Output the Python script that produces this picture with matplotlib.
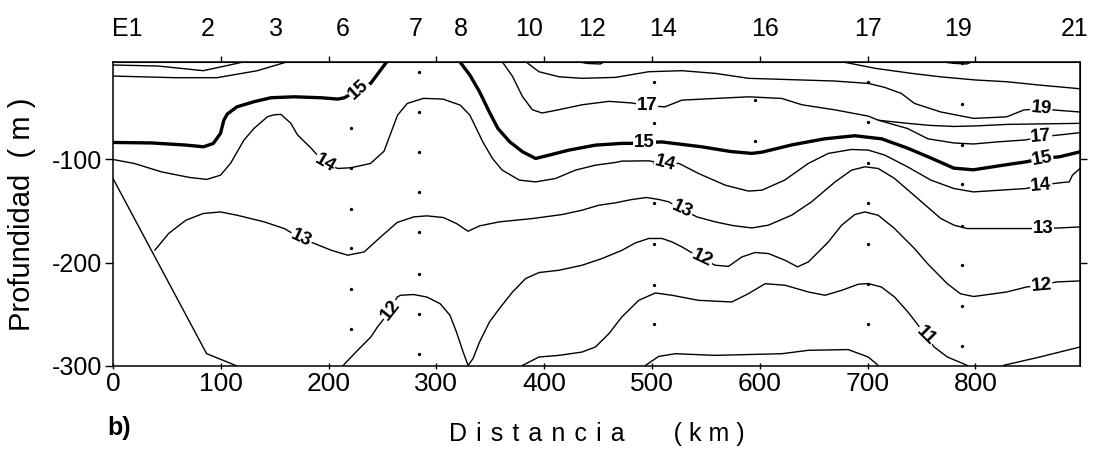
import matplotlib
matplotlib.use("Agg")
import matplotlib.pyplot as plt

plt.rcParams["font.family"] = ["Liberation Sans", "DejaVu Sans"]
plt.rcParams["axes.unicode_minus"] = False

# ---- stations along the section (distance in km) ----
station_names = ["E1", "2", "3", "6", "7", "8", "10", "12", "14", "16", "17", "19", "21"]
station_km = [13.5, 88, 151, 213, 281, 323, 386, 444, 510, 605, 700, 784, 892]

# ---- sampled depths at the casts (m) ----
cast_km = [221, 283.5, 502, 595.5, 700.6, 787.2]
cast_depths = [
    [-69.6, -108, -147.5, -186.2, -225.7, -264.5],
    [-15.1, -53.8, -92.6, -131.4, -170.2, -210.5, -249.3, -288.1],
    [-25, -64.5, -103.2, -142.6, -182, -221.1, -259.6],
    [-42.5, -81.9],
    [-24.7, -63.5, -103.2, -142.6, -181.4, -220.2, -259],
    [-6.9, -46.7, -86, -124.2, -164.3, -202.4, -242.2, -280.6],
]

# ---- sea floor on the shelf ----
shelf_km = [0, 86.8, 115]
shelf_z = [-118.4, -288, -300]

# ---- isotherms (distance km, depth m) ----
iso20_km = [676, 707, 740, 768, 800, 829, 859, 897]
iso20_z = [-5.3, -11.7, -16.5, -20, -23, -24.7, -27.9, -31.5]

iso19_km = [382.8, 395.1, 413.6, 435.2, 466, 497, 527.8, 558.6, 589.5, 620.4, 669, 700.6,
            715.9, 731.2, 743.4, 767.9, 798.4, 829, 845, 861, 878, 897]
iso19_z = [-5.3, -15, -19.9, -21.4, -20.5, -15, -14, -16.6, -21.4, -22.4, -24, -26.3,
           -30.2, -36, -45.7, -54, -60.2, -58.7, -52, -51, -52.5, -54]

iso19w_km = [0, 42, 83.7, 115.2, 121.5]
iso19w_z = [-8.5, -9.5, -14, -6.9, -5.3]

iso17w_km = [0, 58, 96.4, 134, 162]
iso17w_z = [-19.2, -20.8, -20.8, -14, -5.3]

iso17_km = [361, 370.6, 379.8, 389, 398, 413.6, 435.2, 460, 481.5, 495.4, 512, 527.8,
            558.6, 589.8, 620.4, 639, 670, 700.6, 710, 737, 756, 780, 798, 820, 847,
            861, 880, 897]
iso17_z = [-5.3, -19.5, -39, -51.8, -55, -51.8, -47, -43.7, -45.3, -48, -49, -42.5,
           -40.9, -39.3, -40.9, -47, -52, -58, -62, -70, -80, -84, -85, -83, -81,
           -78, -76, -74]

# upper branch of the 17 isotherm east of station 17
iso17b_km = [710, 737, 758, 780, 800, 830, 897]
iso17b_z = [-62, -65, -67, -68, -67.5, -66, -65]

iso15w_km = [0, 36, 67, 84, 93, 99.7, 102.8, 106, 115, 131, 146.5, 168, 193, 208.5,
             214.7, 228, 239, 254]
iso15w_z = [-83.5, -84, -86, -87.7, -84.5, -74.8, -62, -56, -49, -44, -40.2, -39.3,
            -40.2, -41.5, -40.2, -32, -26.3, -5.3]

iso15e_km = [321.7, 331, 340, 349, 357, 368, 380, 392, 404.4, 423, 447.5, 472, 480, 493,
             509, 546, 573, 592.6, 602, 630, 660, 688, 713, 737, 759, 780, 798, 829,
             847, 862, 878, 897]
iso15e_z = [-5.3, -18.2, -34.4, -53.8, -69.9, -82.9, -92.6, -99, -95.8, -90.9, -86.1,
            -84.4, -84.4, -83.6, -83, -87.7, -92.3, -94.1, -92.9, -85.8, -80, -77, -80,
            -89, -98.7, -108.4, -110, -105, -102.3, -99, -97.4, -92.6]

iso14_km = [0, 19.5, 45, 71, 87, 99.7, 109, 121.5, 130.8, 143.3, 149.5, 155.8, 165, 171,
            184, 196.3, 208.5, 220.8, 239, 251.4, 257, 264, 273, 288, 306, 322, 331,
            337, 343, 352, 361, 377, 392, 410.5, 429, 447.5, 466, 472, 497, 512, 525,
            543, 568, 589.5, 602, 623, 645, 663.6, 685, 700.6, 716, 737, 758.7, 780,
            798, 847, 861, 878, 887, 890, 897]
iso14_z = [-100, -103.8, -112, -117.4, -119.3, -115.2, -103.8, -81.2, -69.9, -58.6,
           -56.7, -56.3, -65, -76, -89.3, -103.8, -108.7, -108, -103.8, -92, -76.4, -57,
           -45.7, -40.8, -41.5, -47.3, -57, -69.9, -82.9, -99, -110.3, -120, -121.7,
           -118.4, -110.3, -105.5, -102.9, -101.6, -101.3, -104, -103.8, -113.5, -124.9,
           -130.6, -129.7, -120, -103.8, -94.1, -90.3, -90.9, -95.8, -107.1, -120,
           -128.1, -131.4, -128.1, -124.9, -122.6, -121.7, -115.2, -108.7]

iso13_km = [38.8, 51.6, 67.6, 83.7, 99.7, 115.2, 140.2, 158.9, 174.5, 186.9, 202.5,
            217.7, 233, 248.3, 263.6, 278.9, 291.1, 306.4, 318.6, 329.4, 340, 358.4,
            389, 416.7, 435.2, 450.6, 466, 480, 494.7, 506.2, 515.5, 527.8, 541.7,
            558.6, 575, 592.6, 608, 629.6, 648, 669.8, 685.2, 697.5, 709.8, 725,
            746.5, 767.9, 780.1, 792.4, 847.4, 862.7, 878, 897]
iso13_z = [-187.9, -171.7, -158.8, -152.3, -150.8, -154, -160.4, -166.9, -176.5, -181.4,
           -187.9, -192.7, -189.5, -175, -161, -155.6, -154.6, -156.2, -162, -169.5,
           -164.3, -160.4, -157.2, -153.3, -149.1, -144.3, -142, -139, -136.8, -138.7,
           -141, -148.4, -155.6, -160.4, -164, -166.3, -163.6, -153.9, -141, -121.7,
           -110.3, -107.1, -108.7, -118.4, -137.8, -157.2, -163.6, -166.9, -166.9,
           -166.9, -166.3, -165.3]

iso12_km = [213, 226.9, 239.2, 245.3, 257.5, 263.6, 266.7, 278.9, 291.1, 303.4, 312.6,
            318.6, 324.8, 329.4, 333.9, 340, 349.2, 358.4, 370.6, 382.8, 395.1, 413.6,
            435.2, 453.7, 472.2, 484.5, 497, 509.3, 518.5, 527.8, 546.3, 558.6, 571,
            583.3, 595.6, 608, 623.4, 635, 645, 663.6, 675.9, 688.2, 697.5, 709.8, 725,
            743.4, 755.7, 774, 786.2, 798.4, 829, 847.4, 861.2, 875, 897]
iso12_z = [-300, -284.8, -271.9, -262.2, -246, -233.2, -231.5, -230.8, -233.2, -239.6,
           -250.9, -267.1, -286.5, -299.4, -292.9, -276.8, -257.4, -244.4, -228.3,
           -215.3, -209.5, -207.3, -202.4, -195.9, -187.9, -180.8, -176.5, -176.5,
           -179.8, -184.7, -196, -202.4, -203.5, -194.4, -190.1, -191.1, -197.6, -204,
           -199.2, -179.8, -163.6, -153.3, -150.8, -154, -166.9, -186.2, -201, -220.4,
           -230.1, -232.7, -228.3, -223.5, -221.8, -218.6, -217.6]

iso11_km = [380, 395, 413.6, 435, 447.5, 460, 472, 487.7, 503, 518.5, 543.2, 574, 589.5,
            604.9, 623.4, 645, 660.5, 676, 691.4, 700.6, 712.8, 725, 737.4, 743.4, 754,
            761.7, 774, 792.4]
iso11_z = [-299.4, -291.3, -289.7, -286.5, -281.6, -268.7, -252.5, -236.4, -229.3,
           -231.5, -236.4, -238, -229.9, -220.3, -221.8, -228.3, -231.5, -226.7, -220.8,
           -220.2, -223.5, -233.2, -247.7, -255.8, -270.3, -281.6, -291.3, -299.4]

iso11e_km = [826, 859.6, 897]
iso11e_z = [-299.4, -291.3, -281.6]

iso10_km = [494, 506.2, 521.6, 558.6, 620.4, 645, 682, 700.6, 709.8]
iso10_z = [-299.4, -290.7, -288.1, -289.7, -288.1, -284.8, -284.1, -291.3, -299.4]

# small warm patches right under the surface
patch1_km = [431, 440, 452, 456]
patch1_z = [-5.3, -7, -7.5, -5.3]
patch2_km = [768, 780, 792, 797]
patch2_z = [-5.3, -6.9, -7.5, -5.3]

# ---- contour labels: value, distance, depth, angle ----
label_vals = [15, 14, 13, 12, 17, 15, 14, 13, 12, 11, 19, 17, 15, 14, 13, 12]
label_km = [228, 196.3, 174.5, 257.5, 495.4, 493, 512, 527.8, 546.3, 754,
            861, 861, 862, 861, 862.7, 861.2]
label_z = [-32, -103.8, -176.5, -246, -48, -83.6, -104, -148.4, -196, -270.3,
           -51, -78, -99, -124.9, -166.9, -221.8]
label_rot = [42, -30, -25, 52, 0, 0, -15, -25, -25, -45, -5, 5, 10, 5, 0, 5]

fig = plt.figure(figsize=(11.02, 4.55), dpi=100)
ax = fig.add_axes([113 / 1102, 1 - 366 / 455, (1080 - 113) / 1102, (366 - 61.7) / 455])

thin = dict(color="black", lw=1.0, solid_joinstyle="round", solid_capstyle="round")
bold = dict(color="black", lw=2.4, solid_joinstyle="round", solid_capstyle="round")

for xs, zs in [(iso20_km, iso20_z), (iso19_km, iso19_z), (iso19w_km, iso19w_z),
               (iso17w_km, iso17w_z), (iso17_km, iso17_z), (iso17b_km, iso17b_z),
               (iso14_km, iso14_z), (iso13_km, iso13_z), (iso12_km, iso12_z),
               (iso11_km, iso11_z), (iso11e_km, iso11e_z), (iso10_km, iso10_z),
               (patch1_km, patch1_z), (patch2_km, patch2_z), (shelf_km, shelf_z)]:
    ax.plot(xs, zs, **thin)
for xs, zs in [(iso15w_km, iso15w_z), (iso15e_km, iso15e_z)]:
    ax.plot(xs, zs, **bold)

for km, depths in zip(cast_km, cast_depths):
    ax.plot([km] * len(depths), depths, "o", color="black", ms=2.4, mew=0)

for v, x, z, r in zip(label_vals, label_km, label_z, label_rot):
    ax.text(x, z, f"{v}", rotation=r, ha="center", va="center", fontsize=13.5,
            fontweight="bold", rotation_mode="anchor",
            bbox=dict(facecolor="white", edgecolor="none", pad=0.6))

ax.set_xlim(0, 897)
ax.set_ylim(-300, -5.3)
for s in ax.spines.values():
    s.set_linewidth(1.1)

ax.set_xticks(range(0, 801, 100))
ax.set_yticks([-300, -200, -100])
ax.tick_params(axis="x", direction="inout", length=5, width=1, labelsize=19, pad=2)
ax.tick_params(axis="y", direction="out", length=6, width=1, labelsize=18, pad=2)

top_ticks = ax.secondary_xaxis("top")
top_ticks.set_xticks(range(100, 801, 100))
top_ticks.tick_params(direction="out", length=4, width=1, labeltop=False)

stations = ax.secondary_xaxis("top")
stations.set_xticks(station_km)
stations.set_xticklabels(station_names)
stations.tick_params(length=0, labelsize=18, pad=15)
stations.spines["top"].set_visible(False)

right = ax.secondary_yaxis("right")
right.set_yticks([-200, -100])
right.tick_params(direction="out", length=5, width=1, labelright=False)

gap = " \u200a"
ax.set_xlabel(gap.join("Distancia") + "       " + "( k m )", fontsize=18)
ax.xaxis.set_label_coords(0.5, -0.225)
ax.xaxis.label.set_va("center")
ax.set_ylabel("Profundidad  ( m )", fontsize=21)
ax.yaxis.set_label_coords(-0.094, 0.5)
ax.yaxis.label.set_va("center")

fig.text(119 / 1102, 1 - 428 / 455, "b)", fontsize=18, fontweight="bold",
         ha="center", va="center")

fig.savefig("out.png", dpi=100)
